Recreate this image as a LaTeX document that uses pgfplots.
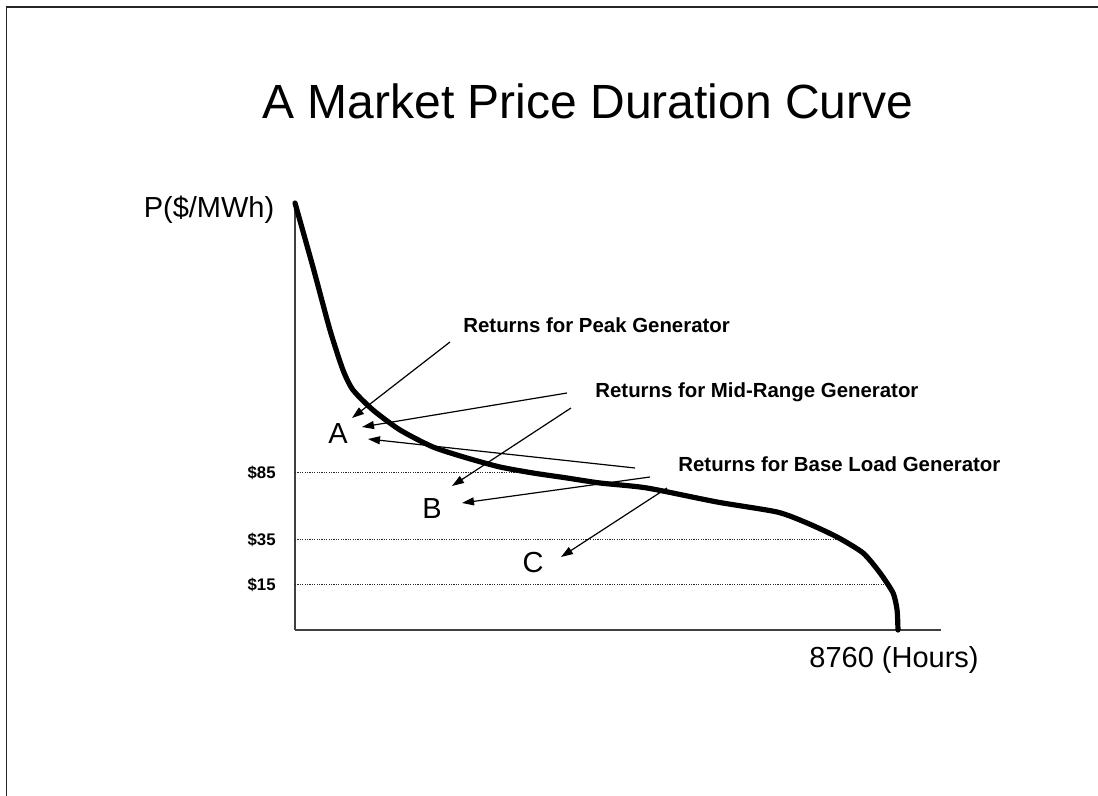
\documentclass[border=0pt]{standalone}
\usepackage{pgfplots}
\pgfplotsset{compat=1.18}
\usepackage{fontspec}
\setmainfont{Liberation Sans}
\usetikzlibrary{arrows.meta}
\begin{document}
\begin{tikzpicture}
% slide canvas in pixel units (1px = 0.5pt, y downward)
\begin{scope}[x=0.5pt,y=-0.5pt]
\path[use as bounding box] (0,0) rectangle (1098,796);
\draw[line width=0.8pt, black!85] (6.5,796) -- (6.5,7) -- (1098,7);
\node[anchor=base, font=\fontsize{24}{28}\selectfont] at (588,119) {A Market Price Duration Curve};
\node[anchor=base, font=\fontsize{14.5}{17}\selectfont] at (209,218) {P(\$/MWh)};
\node[anchor=base, font=\fontsize{14.5}{17}\selectfont] at (894,667) {8760 (Hours)};
\end{scope}
\begin{axis}[
  at={(147.5pt,-315pt)}, anchor=south west,
  scale only axis, width=323pt, height=213.5pt,
  xmin=0, xmax=9385, ymin=0, ymax=427,
  axis x line*=bottom, axis y line*=left,
  axis line style={-, draw=black!75, line width=0.75pt},
  xtick=\empty,
  ytick={45,90,157}, yticklabels={\$15,\$35,\$85},
  major tick length=0pt,
  yticklabel style={font=\bfseries\fontsize{8.4}{10}\selectfont, anchor=east, inner sep=0pt, xshift=-9.5pt},
  clip=false,
]
\addplot[black!85, line width=0.5pt, dash pattern=on 0.6pt off 0.6pt] coordinates {(0,157) (3458,157)};
\addplot[black!85, line width=0.5pt, dash pattern=on 0.6pt off 0.6pt] coordinates {(0,90) (7874,90)};
\addplot[black!85, line width=0.5pt, dash pattern=on 0.6pt off 0.6pt] coordinates {(0,45) (8600,45)};
\addplot[black, line width=2.6pt, line cap=round, line join=round, smooth, tension=0.4] coordinates {
(0,427) (261,363) (508,300) (697,260) (843,240) (1133,220) (1526,200) (2005,183)
(2499,172) (2978,163) (3458,157) (3952,152) (4431,147) (5114,142) (6131,128)
(7003,118) (7439,107) (7875,93) (8253,77) (8500,57) (8689,37) (8747,20) (8760,0)
};
\end{axis}
\begin{scope}[x=0.5pt,y=-0.5pt]
\node[anchor=base, font=\fontsize{14.5}{17}\selectfont] at (338,444) {A};
\node[anchor=base, font=\fontsize{14.5}{17}\selectfont] at (432,518) {B};
\node[anchor=base, font=\fontsize{14.5}{17}\selectfont] at (533,573) {C};
\node[anchor=base west, inner sep=0pt, font=\bfseries\fontsize{10.2}{12}\selectfont] at (463,333) {Returns for Peak Generator};
\node[anchor=base west, inner sep=0pt, font=\bfseries\fontsize{10.2}{12}\selectfont] at (595,398) {Returns for Mid-Range Generator};
\node[anchor=base west, inner sep=0pt, font=\bfseries\fontsize{10.2}{12}\selectfont] at (678,472) {Returns for Base Load Generator};
\begin{scope}[line width=0.6pt, -{Triangle[length=6pt,width=4pt]}]
\draw (450,342) -- (352,418);
\draw (567,393) -- (362,427);
\draw (635,468) -- (368,439);
\draw (571,408) -- (452,486);
\draw (650,477) -- (462,503);
\draw (667,488) -- (561,557);
\end{scope}
\end{scope}
\end{tikzpicture}
\end{document}
